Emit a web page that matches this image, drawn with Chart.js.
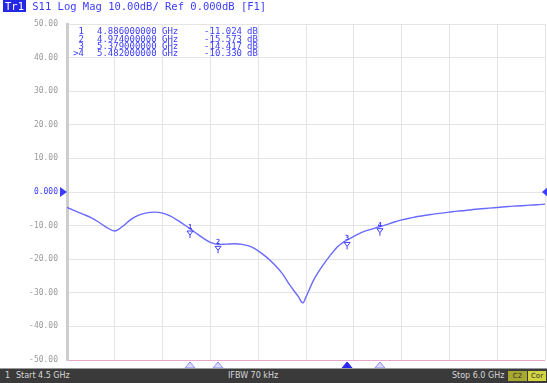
<!DOCTYPE html>
<html>
<head>
<meta charset="utf-8">
<script src="https://cdn.jsdelivr.net/npm/chart.js@4/dist/chart.umd.min.js"></script>
<style>
  body { margin: 0; background: #fff; width: 547px; height: 383px; overflow: hidden; position: relative; }
  #wrap { position: absolute; left: 0; top: 0; width: 547px; height: 383px; }
  .title { position: absolute; top: 1px; left: 3px; font: 10.5px "DejaVu Sans Mono", monospace; color: #3c3cff; white-space: pre; line-height: 11px; }
  .title .tr { background: #2626e6; color: #fff; padding: 0 2px; }
  .status { position: absolute; left: 0; top: 368px; width: 547px; height: 14px; background: #3a3a3a; border-top: 1px solid #9a9a9a;
            color: #d8d8d8; font: 8px "DejaVu Sans", sans-serif; line-height: 14px; }
  .status span { position: absolute; top: 0; white-space: pre; }
  .status .box { top: 2px; height: 10px; line-height: 10px; color: #333; text-align: center; font-size: 7px; }
</style>
</head>
<body>
<div id="wrap"><canvas id="c"></canvas></div>
<div class="title"><span class="tr">Tr1</span> S11 Log Mag 10.00dB/ Ref 0.000dB [F1]</div>
<div class="status">
  <span style="left:5px">1</span>
  <span style="left:16px">Start 4.5 GHz</span>
  <span style="left:228px">IFBW 70 kHz</span>
  <span style="left:452px">Stop 6.0 GHz</span>
  <span class="box" style="left:508px;width:19px;background:#a8a830">C2</span>
  <span class="box" style="left:528px;width:18px;background:#d4d440">Cor</span>
</div>
<script>
// S11 sweep, GHz / dB
const freqGHz = [4.500, 4.525, 4.550, 4.575, 4.600, 4.625, 4.650, 4.675, 4.700, 4.725,
                 4.750, 4.775, 4.800, 4.825, 4.850, 4.875, 4.900, 4.925, 4.950, 4.975,
                 5.000, 5.025, 5.050, 5.075, 5.100, 5.125, 5.150, 5.175, 5.200, 5.225,
                 5.240, 5.250, 5.275, 5.300, 5.325, 5.350, 5.375, 5.400, 5.425, 5.450,
                 5.475, 5.500, 5.525, 5.550, 5.575, 5.600, 5.625, 5.650, 5.675, 5.700,
                 5.725, 5.750, 5.775, 5.800, 5.825, 5.850, 5.875, 5.900, 5.925, 5.950,
                 5.975, 6.000];
const s11dB = [-4.6, -5.6, -6.6, -7.6, -9.0, -10.6, -11.6, -10.2, -8.2, -6.9,
               -6.2, -6.0, -6.3, -7.2, -8.6, -10.2, -11.9, -13.6, -15.0, -15.6,
               -15.5, -15.4, -15.6, -16.2, -17.5, -19.3, -21.5, -24.2, -27.8, -31.0,
               -33.0, -31.2, -26.0, -22.2, -19.0, -16.2, -14.5, -13.2, -12.0, -11.2,
               -10.5, -9.8, -9.0, -8.3, -7.8, -7.3, -6.9, -6.6, -6.3, -6.0,
               -5.7, -5.5, -5.2, -5.0, -4.8, -4.6, -4.4, -4.2, -4.1, -3.9,
               -3.8, -3.6];

// markers
const markerIds = ['1', '2', '3', '4'];
const markerFreq = [4.886, 4.974, 5.379, 5.482];
const markerDB = [-11.024, -15.573, -14.417, -10.330];
const activeMarker = 2;

const xGrid = [4.5, 4.65, 4.8, 4.95, 5.1, 5.25, 5.4, 5.55, 5.7, 5.85, 6.0];
const yTicks = [-50, -40, -30, -20, -10, 0, 10, 20, 30, 40, 50];

const BLUE = '#3c3cff';
const TRACE = '#6a6aff';

function tri(ctx, pts, fill, stroke) {
  ctx.beginPath();
  ctx.moveTo(pts[0], pts[1]);
  ctx.lineTo(pts[2], pts[3]);
  ctx.lineTo(pts[4], pts[5]);
  ctx.closePath();
  if (fill) { ctx.fillStyle = fill; ctx.fill(); }
  if (stroke) { ctx.strokeStyle = stroke; ctx.lineWidth = 1; ctx.stroke(); }
}

const overlay = {
  id: 'overlay',
  afterDatasetsDraw(chart) {
    const { ctx, scales: { x, y }, chartArea: a } = chart;
    ctx.save();

    // reference level arrows
    const y0 = y.getPixelForValue(0);
    tri(ctx, [a.left - 7, y0 - 5, a.left - 7, y0 + 5, a.left, y0], BLUE);
    tri(ctx, [a.right - 3, y0, a.right + 3, y0 - 5, a.right + 3, y0 + 5], BLUE);

    // marker glyphs on the trace
    ctx.font = 'bold 7px "DejaVu Sans Mono", monospace';
    ctx.textAlign = 'center';
    ctx.textBaseline = 'middle';
    markerFreq.forEach((f, i) => {
      const px = x.getPixelForValue(f);
      const py = y.getPixelForValue(markerDB[i]);
      ctx.fillStyle = BLUE;
      ctx.fillText(markerIds[i], px, py - 2);
      tri(ctx, [px - 3, py + 2, px + 3, py + 2, px, py + 6], null, BLUE);
      ctx.beginPath();
      ctx.moveTo(px, py + 6);
      ctx.lineTo(px, py + 9);
      ctx.stroke();

      // position indicators under the grid
      const by = a.bottom + 2;
      const on = i === activeMarker;
      tri(ctx, [px, by, px - 5, by + 6, px + 5, by + 6], on ? '#2a2aff' : '#dcdcff', on ? '#2a2aff' : '#8c8cff');
    });

    // marker readout table
    ctx.font = '9px "DejaVu Sans Mono", monospace';
    ctx.textBaseline = 'middle';
    ctx.fillStyle = BLUE;
    markerFreq.forEach((f, i) => {
      const ty = 32 + i * 7.3;
      ctx.textAlign = 'right';
      ctx.fillText((i === markerFreq.length - 1 ? '>' : '') + markerIds[i], 84, ty);
      ctx.textAlign = 'left';
      ctx.fillText(f.toFixed(9) + ' GHz', 97, ty);
      ctx.textAlign = 'right';
      ctx.fillText(markerDB[i].toFixed(3), 242, ty);
      ctx.textAlign = 'left';
      ctx.fillText('dB', 247, ty);
    });
    ctx.restore();
  }
};

new Chart(document.getElementById('c'), {
  type: 'line',
  data: {
    datasets: [{
      data: freqGHz.map((f, i) => ({ x: f, y: s11dB[i] })),
      borderColor: TRACE,
      borderWidth: 1.4,
      pointRadius: 0,
      cubicInterpolationMode: 'monotone'
    }]
  },
  options: {
    responsive: true,
    maintainAspectRatio: false,
    animation: false,
    layout: { padding: { top: 24, bottom: 23, right: 2, left: 0 } },
    plugins: { legend: { display: false }, tooltip: { enabled: false } },
    scales: {
      x: {
        type: 'linear', min: 4.5, max: 6.0,
        afterBuildTicks: s => { s.ticks = xGrid.map(v => ({ value: v })); },
        afterFit: s => { s.height = 0; },
        ticks: { display: false },
        grid: { color: '#e4e4e4', drawTicks: false },
        border: { display: false }
      },
      y: {
        min: -50, max: 50,
        afterBuildTicks: s => { s.ticks = yTicks.map(v => ({ value: v })); },
        afterFit: s => { s.width = 67; },
        ticks: {
          padding: 9,
          font: { family: '"DejaVu Sans Mono", monospace', size: 8 },
          color: c => c.tick.value === 0 ? BLUE : '#9a9a9a',
          callback: v => v === 0 ? '0.000' : v.toFixed(2)
        },
        grid: {
          color: c => c.tick.value === -50 ? '#e6a6cc' : '#e4e4e4',
          drawTicks: false
        },
        border: { color: '#cdcdcd', width: 3 }
      }
    }
  },
  plugins: [overlay]
});
</script>
</body>
</html>
